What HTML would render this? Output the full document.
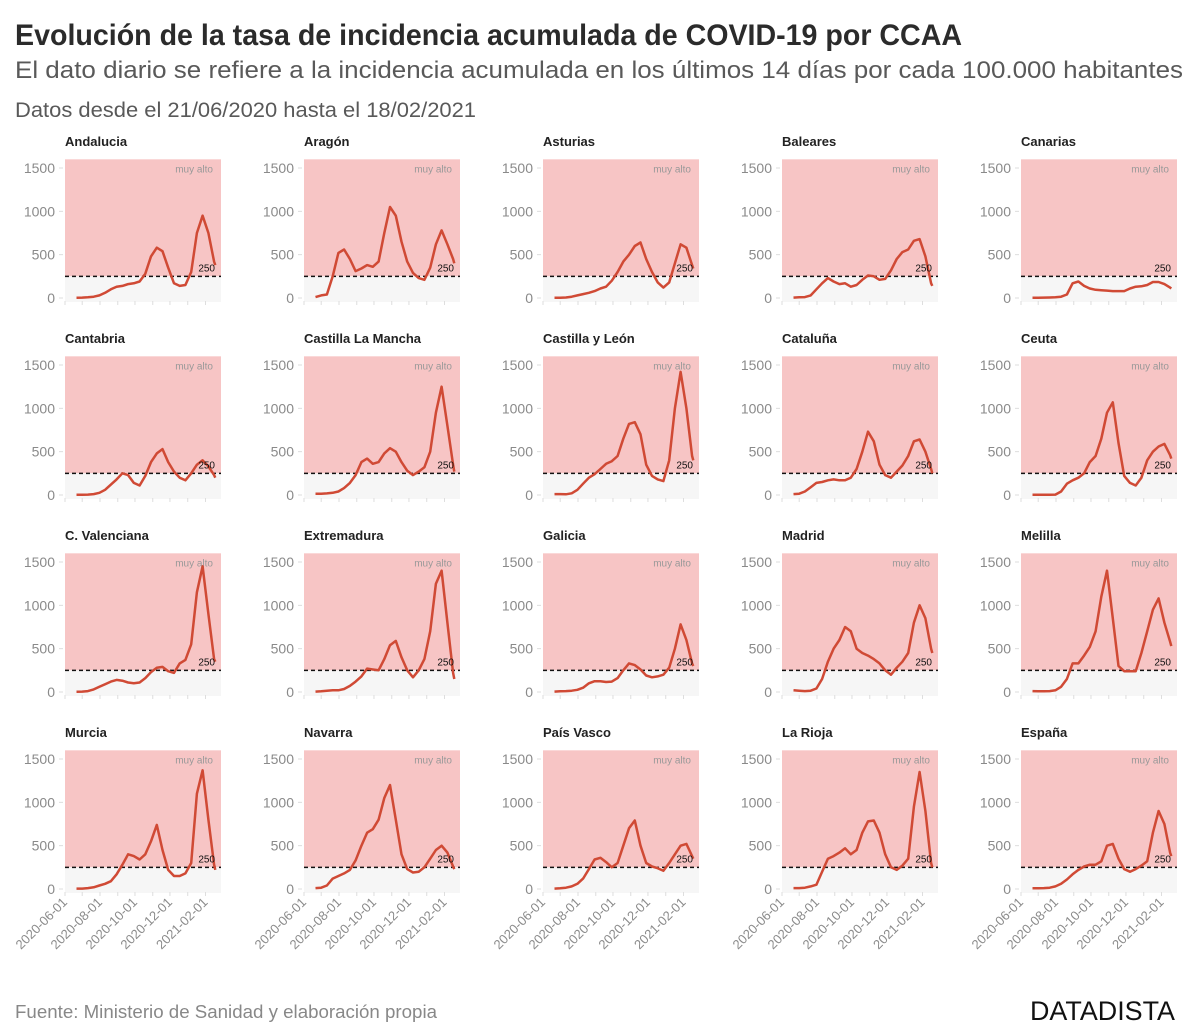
<!DOCTYPE html>
<html><head><meta charset="utf-8">
<style>
html,body{margin:0;padding:0;background:#fff;}
svg{display:block;font-family:"Liberation Sans",sans-serif;}
</style></head>
<body>
<svg id="chart" width="1200" height="1033" viewBox="0 0 1200 1033" xmlns="http://www.w3.org/2000/svg">
<text x="15" y="45" font-size="30" font-weight="bold" fill="#2b2b2b" textLength="947" lengthAdjust="spacingAndGlyphs">Evolución de la tasa de incidencia acumulada de COVID-19 por CCAA</text>
<text x="15" y="78" font-size="24" fill="#595959" textLength="1168" lengthAdjust="spacingAndGlyphs">El dato diario se refiere a la incidencia acumulada en los últimos 14 días por cada 100.000 habitantes</text>
<text x="15" y="117" font-size="21" fill="#595959" textLength="461" lengthAdjust="spacingAndGlyphs">Datos desde el 21/06/2020 hasta el 18/02/2021</text>
<text x="15" y="1018" font-size="18" fill="#888" textLength="422" lengthAdjust="spacingAndGlyphs">Fuente: Ministerio de Sanidad y elaboración propia</text>
<text x="1030" y="1020" font-size="27" fill="#111" textLength="145" lengthAdjust="spacingAndGlyphs">DATADISTA</text>
<g id="panels"></g>
</svg>
<script>
// day offsets since 2020-06-01 for each sample (Jun 21 2020 ... Feb 18 2021)
const days = [20,30,40,50,60,70,80,90,100,110,120,130,140,150,160,170,180,190,200,210,220,230,240,250,260,262];
const regions = ["Andalucia","Aragón","Asturias","Baleares","Canarias","Cantabria","Castilla La Mancha","Castilla y León","Cataluña","Ceuta","C. Valenciana","Extremadura","Galicia","Madrid","Melilla","Murcia","Navarra","País Vasco","La Rioja","España"];
const andalucia = [3,5,8,15,30,60,100,130,140,160,170,190,280,480,580,540,350,170,140,150,300,750,950,750,420,380];
const aragon = [10,30,40,250,520,560,450,310,340,380,360,420,750,1050,950,650,420,290,230,210,350,620,780,620,450,400];
const asturias = [3,4,6,15,30,45,60,80,110,130,200,300,420,500,600,640,450,300,180,120,180,400,620,580,380,340];
const baleares = [5,8,10,30,100,170,230,190,160,170,130,150,210,260,250,210,220,320,450,530,560,660,680,480,170,140];
const canarias = [3,4,5,6,8,15,40,170,190,140,110,95,90,85,80,80,80,110,130,135,150,185,185,160,120,110];
const cantabria = [3,3,5,10,25,60,120,180,250,230,140,110,220,380,480,530,380,270,200,170,250,350,400,330,230,200];
const clmancha = [15,15,18,25,40,80,140,230,380,420,360,380,480,540,500,380,280,230,270,320,500,950,1250,800,350,270];
const cyleon = [10,10,8,20,60,130,200,240,300,360,390,450,650,820,840,700,350,220,180,160,400,1000,1420,1000,450,400];
const cataluna = [10,15,40,90,140,150,170,180,170,170,200,300,500,730,620,350,230,200,270,340,450,620,640,500,300,250];
const ceuta = [3,3,3,3,5,40,130,170,200,250,380,450,650,950,1070,600,220,140,110,200,400,500,560,590,460,420];
const cvalenciana = [3,5,10,30,60,90,120,140,130,110,100,110,160,230,280,290,240,220,330,370,550,1150,1450,900,380,350];
const extremadura = [5,8,15,20,20,35,70,120,180,270,260,250,380,540,590,400,250,170,250,380,700,1250,1400,800,220,150];
const galicia = [5,8,10,15,25,50,100,125,125,115,120,160,250,330,310,260,190,170,180,200,280,500,780,600,330,300];
const madrid = [20,15,10,15,40,150,350,500,600,750,700,500,450,420,380,330,250,200,280,350,450,800,1000,850,500,450];
const melilla = [10,8,8,10,20,60,150,330,330,420,520,700,1100,1400,850,300,240,240,240,450,700,950,1080,800,580,530];
const murcia = [5,5,10,20,40,60,90,170,280,400,380,340,400,550,740,450,220,150,150,180,300,1100,1370,800,280,220];
const navarra = [10,15,40,120,150,180,220,330,500,650,690,800,1050,1200,800,400,230,190,200,250,350,450,500,420,260,230];
const paisvasco = [5,8,15,30,60,120,230,340,360,310,250,300,500,700,790,500,300,260,240,210,300,400,500,520,380,350];
const larioja = [10,10,15,30,50,200,350,380,420,470,400,450,650,780,790,650,400,250,220,270,350,950,1350,900,300,250];
const espana = [8,8,10,15,30,60,110,170,220,260,280,280,320,500,520,350,230,200,230,270,320,650,900,750,420,380];
const series = [andalucia,aragon,asturias,baleares,canarias,cantabria,clmancha,cyleon,cataluna,ceuta,cvalenciana,extremadura,galicia,madrid,melilla,murcia,navarra,paisvasco,larioja,espana];
const yTicks = [0,500,1000,1500];
const xTickDays = [0,30,61,92,122,153,183,214,245];
const xTickLabels = ["2020-06-01","","2020-08-01","","2020-10-01","","2020-12-01","","2021-02-01"];
const threshold = 250;

const NS = "http://www.w3.org/2000/svg";
const root = document.getElementById("panels");
function mk(tag, attrs, parent){const e=document.createElementNS(NS,tag);for(const k in attrs)e.setAttribute(k,attrs[k]);parent.appendChild(e);return e;}

series.forEach((vals, i) => {
  const col = i % 5, row = Math.floor(i / 5);
  const x0 = 65 + col * 239, zeroY = 298 + row * 197;
  const W = 156;
  const xs = d => x0 + d * (W / 272);
  const ys = v => zeroY - v * (130 / 1500);
  const g = mk("g", {}, root);
  
  
  const t = mk("text", {x:x0, y:zeroY-152, "font-size":13, "font-weight":"bold", fill:"#222"}, g);
  t.textContent = regions[i];
  
  
  const pink = mk("rect", {x:x0, y:ys(1600), width:W, height:ys(threshold)-ys(1600), fill:"#f7c5c5"}, g);
  
  
  const grey = mk("rect", {x:x0, y:ys(threshold), width:W, height:ys(-45)-ys(threshold), fill:"#f6f6f6"}, g);
  
  
  yTicks.forEach(v => {
    const lb = mk("text", {x:x0-10, y:ys(v)+5, "font-size":14, fill:"#8a8a8a", "text-anchor":"end"}, g);
    lb.textContent = v;
    
    
    const tk = mk("line", {x1:x0-6, x2:x0-2, y1:ys(v), y2:ys(v), stroke:"#ddd", "stroke-width":1}, g);
    
    
  });
  xTickDays.forEach((d, k) => {
    const tk = mk("line", {x1:xs(d), x2:xs(d), y1:zeroY+3, y2:zeroY+7, stroke:"#ddd", "stroke-width":1}, g);
    
    
    if (row === 3 && xTickLabels[k]) {
      const lb = mk("text", {x:xs(d)+3, y:zeroY+14, "font-size":13, fill:"#8a8a8a", "text-anchor":"end", transform:`rotate(-45 ${xs(d)+3} ${zeroY+14})`}, g);
      lb.textContent = xTickLabels[k];
      
      
    }
  });
  const ma = mk("text", {x:x0+W-8, y:ys(1600)+13, "font-size":10, fill:"#999", "text-anchor":"end"}, g);
  ma.textContent = "muy alto";
  
  
  const dl = mk("line", {x1:x0, x2:x0+W, y1:ys(threshold), y2:ys(threshold), stroke:"#111", "stroke-width":1.5, "stroke-dasharray":"4,3"}, g);
  
  
  const pts = vals.map((v, k) => xs(days[k]).toFixed(1) + "," + ys(v).toFixed(1)).join(" ");
  const pl = mk("polyline", {points:pts, fill:"none", stroke:"#d04a35", "stroke-width":2.5, "stroke-linejoin":"round"}, g);
  
  
  const tl = mk("text", {x:x0+W-6, y:ys(threshold)-5, "font-size":10, fill:"#111", "text-anchor":"end"}, g);
  tl.textContent = threshold;
  
  
});
</script>
</body></html>
